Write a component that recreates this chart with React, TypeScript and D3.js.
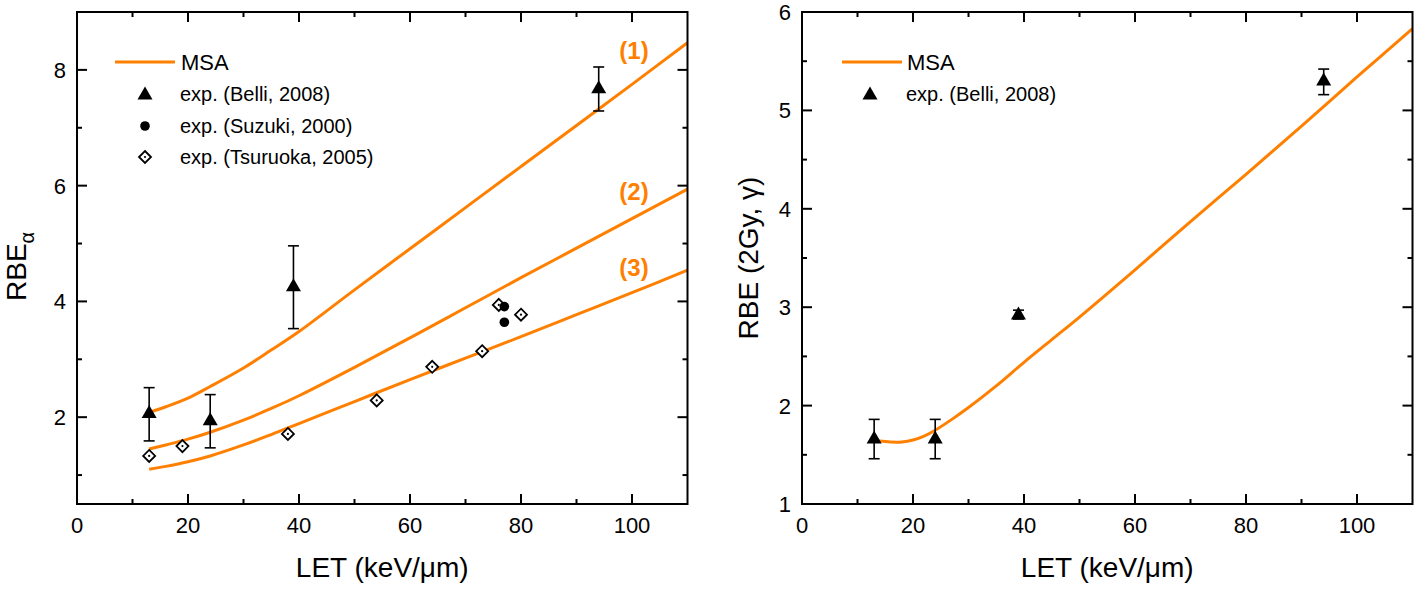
import React from "react";
import * as d3 from "d3";

// ---------- data (left panel) ----------
const letGrid = [13, 16, 20, 24, 30, 35, 40, 50, 60, 70, 80, 90, 100, 110];
const msaCurve1 = [2.08, 2.18, 2.33, 2.53, 2.85, 3.16, 3.48, 4.2, 4.91, 5.62, 6.33, 7.04, 7.75, 8.47];
const msaCurve2 = [1.45, 1.52, 1.62, 1.74, 1.95, 2.15, 2.37, 2.86, 3.37, 3.89, 4.41, 4.92, 5.43, 5.94];
const msaCurve3 = [1.1, 1.15, 1.23, 1.33, 1.52, 1.7, 1.89, 2.27, 2.65, 3.02, 3.39, 3.77, 4.15, 4.54];
const curveLabels = ["(1)", "(2)", "(3)"];
const curveLabelY = [8.19, 5.75, 4.44];

const belliLet = [13, 24, 39, 94];
const belliRbeA = [2.08, 1.955, 4.27, 7.69];
const belliRbeALo = [1.59, 1.47, 3.53, 7.29];
const belliRbeAHi = [2.51, 2.39, 4.96, 8.05];

const suzukiLet = [77, 77];
const suzukiRbe = [3.91, 3.64];

const tsuruokaLet = [13, 19, 38, 54, 64, 73, 76, 80];
const tsuruokaRbe = [1.33, 1.5, 1.71, 2.29, 2.87, 3.14, 3.94, 3.77];

// ---------- data (right panel) ----------
const letGrid2 = [13, 14, 16, 18, 20, 22, 24, 27, 30, 35, 40, 45, 50, 60, 70, 80, 90, 100, 110];
const msaRbe2Gy = [1.65, 1.64, 1.63, 1.63, 1.65, 1.69, 1.75, 1.86, 1.98, 2.2, 2.44, 2.67, 2.9, 3.38, 3.87, 4.35, 4.84, 5.34, 5.83];
const belliRbe2Gy = [1.67, 1.67, 2.93, 5.31];
const belliRbe2GyLo = [1.46, 1.46, 2.88, 5.16];
const belliRbe2GyHi = [1.86, 1.86, 2.97, 5.42];

const xTicks = [0, 20, 40, 60, 80, 100];
const xMinor = [10, 30, 50, 70, 90];
const yTicksL = [2, 4, 6, 8];
const yMinorL = [1, 3, 5, 7];
const yTicksR = [1, 2, 3, 4, 5, 6];
const yMinorR = [1.5, 2.5, 3.5, 4.5, 5.5];

const ORANGE = "#ff8000";
const FONT = "'Liberation Sans', Arial, Helvetica, sans-serif";

type Box = { left: number; right: number; top: number; bottom: number };

function Frame({ x, y, box, xt, xm, yt, ym }: any) {
  const { left, right, top, bottom } = box as Box;
  const els: any[] = [];
  xt.forEach((v: number, i: number) => {
    const px = x(v);
    els.push(<line key={"xb" + i} x1={px} x2={px} y1={bottom} y2={bottom - 10} />);
    els.push(<line key={"xt" + i} x1={px} x2={px} y1={top} y2={top + 10} />);
  });
  xm.forEach((v: number, i: number) => {
    const px = x(v);
    els.push(<line key={"xmb" + i} x1={px} x2={px} y1={bottom} y2={bottom - 5} />);
    els.push(<line key={"xmt" + i} x1={px} x2={px} y1={top} y2={top + 5} />);
  });
  yt.forEach((v: number, i: number) => {
    const py = y(v);
    els.push(<line key={"yl" + i} x1={left} x2={left + 10} y1={py} y2={py} />);
    els.push(<line key={"yr" + i} x1={right} x2={right - 10} y1={py} y2={py} />);
  });
  ym.forEach((v: number, i: number) => {
    const py = y(v);
    els.push(<line key={"yml" + i} x1={left} x2={left + 5} y1={py} y2={py} />);
    els.push(<line key={"ymr" + i} x1={right} x2={right - 5} y1={py} y2={py} />);
  });
  return (
    <g stroke="#000" strokeWidth={2} fill="none">
      <rect x={left} y={top} width={right - left} height={bottom - top} />
      {els}
      <g stroke="none" fill="#000" fontFamily={FONT} fontSize={22}>
        {xt.map((v: number) => (
          <text key={"xl" + v} x={x(v)} y={bottom + 29} textAnchor="middle">
            {v}
          </text>
        ))}
        {yt.map((v: number) => (
          <text key={"ylab" + v} x={left - 11} y={y(v) + 8} textAnchor="end">
            {v}
          </text>
        ))}
      </g>
    </g>
  );
}

function tri(cx: number, cy: number) {
  return `M${cx},${cy - 7.5}L${cx + 7.5},${cy + 5.5}L${cx - 7.5},${cy + 5.5}Z`;
}

function Diamond({ cx, cy }: { cx: number; cy: number }) {
  const r = 6;
  return (
    <g>
      <path d={`M${cx},${cy - r}L${cx + r},${cy}L${cx},${cy + r}L${cx - r},${cy}Z`} fill="#fff" stroke="#000" strokeWidth={1.8} />
      <circle cx={cx} cy={cy} r={1.1} fill="#000" />
    </g>
  );
}

function ErrBar({ px, y1, y2 }: { px: number; y1: number; y2: number }) {
  return (
    <g stroke="#000" strokeWidth={1.6}>
      <line x1={px} x2={px} y1={y1} y2={y2} />
      <line x1={px - 5.5} x2={px + 5.5} y1={y1} y2={y1} />
      <line x1={px - 5.5} x2={px + 5.5} y1={y2} y2={y2} />
    </g>
  );
}

export default function App() {
  // left panel
  const boxL: Box = { left: 77, right: 687.5, top: 12, bottom: 504 };
  const xL = d3.scaleLinear().domain([0, 110]).range([boxL.left, boxL.right]);
  const yL = d3.scaleLinear().domain([0.5, 9]).range([boxL.bottom, boxL.top]);
  // right panel
  const boxR: Box = { left: 802, right: 1412.5, top: 12, bottom: 504 };
  const xR = d3.scaleLinear().domain([0, 110]).range([boxR.left, boxR.right]);
  const yR = d3.scaleLinear().domain([1, 6]).range([boxR.bottom, boxR.top]);

  const lineL = d3
    .line<[number, number]>()
    .x((d) => xL(d[0]))
    .y((d) => yL(d[1]))
    .curve(d3.curveCatmullRom.alpha(0.5));
  const lineR = d3
    .line<[number, number]>()
    .x((d) => xR(d[0]))
    .y((d) => yR(d[1]))
    .curve(d3.curveCatmullRom.alpha(0.5));

  const curvesL = [msaCurve1, msaCurve2, msaCurve3].map((c) =>
    lineL(letGrid.map((v, i) => [v, c[i]] as [number, number]))
  );
  const curveR = lineR(letGrid2.map((v, i) => [v, msaRbe2Gy[i]] as [number, number]));

  return (
    <svg
      width={1418}
      height={593}
      style={{ position: "absolute", left: 0, top: 0, background: "#fff" }}
      fontFamily={FONT}
    >
      <rect width={1418} height={593} fill="#fff" />
      {/* ---------- left panel ---------- */}
      <g>
        {curvesL.map((d, i) => (
          <path key={i} d={d || ""} fill="none" stroke={ORANGE} strokeWidth={3} />
        ))}
        {curveLabels.map((t, i) => (
          <text key={t} x={634} y={yL(curveLabelY[i])} textAnchor="middle" fill={ORANGE} fontWeight="bold" fontSize={24}>
            {t}
          </text>
        ))}
        {belliLet.map((v, i) => (
          <ErrBar key={"eb" + i} px={xL(v)} y1={yL(belliRbeAHi[i])} y2={yL(belliRbeALo[i])} />
        ))}
        {belliLet.map((v, i) => (
          <path key={"bt" + i} d={tri(xL(v), yL(belliRbeA[i]))} fill="#000" />
        ))}
        {tsuruokaLet.map((v, i) => (
          <Diamond key={"ts" + i} cx={xL(v)} cy={yL(tsuruokaRbe[i])} />
        ))}
        {suzukiLet.map((v, i) => (
          <circle key={"sz" + i} cx={xL(v)} cy={yL(suzukiRbe[i])} r={4.8} fill="#000" />
        ))}
        <Frame x={xL} y={yL} box={boxL} xt={xTicks} xm={xMinor} yt={yTicksL} ym={yMinorL} />
        {/* legend */}
        <line x1={115} x2={175} y1={62} y2={62} stroke={ORANGE} strokeWidth={3} />
        <text x={181} y={70} fontSize={22}>MSA</text>
        <path d={tri(145, 94)} fill="#000" />
        <text x={180} y={101} fontSize={20}>exp. (Belli, 2008)</text>
        <circle cx={145} cy={126} r={4.8} fill="#000" />
        <text x={180} y={133} fontSize={20}>exp. (Suzuki, 2000)</text>
        <Diamond cx={145} cy={157} />
        <text x={180} y={164} fontSize={20}>exp. (Tsuruoka, 2005)</text>
        {/* axis titles */}
        <text x={(boxL.left + boxL.right) / 2} y={577} textAnchor="middle" fontSize={28}>
          LET (keV/μm)
        </text>
        <text transform="translate(26,301) rotate(-90)" fontSize={28}>
          RBE
          <tspan fontSize={20} dy={8}>α</tspan>
        </text>
      </g>
      {/* ---------- right panel ---------- */}
      <g>
        <path d={curveR || ""} fill="none" stroke={ORANGE} strokeWidth={3} />
        {belliLet.map((v, i) => (
          <ErrBar key={"ebr" + i} px={xR(v)} y1={yR(belliRbe2GyHi[i])} y2={yR(belliRbe2GyLo[i])} />
        ))}
        {belliLet.map((v, i) => (
          <path key={"btr" + i} d={tri(xR(v), yR(belliRbe2Gy[i]))} fill="#000" />
        ))}
        <Frame x={xR} y={yR} box={boxR} xt={xTicks} xm={xMinor} yt={yTicksR} ym={yMinorR} />
        <line x1={842} x2={902} y1={62} y2={62} stroke={ORANGE} strokeWidth={3} />
        <text x={907} y={70} fontSize={22}>MSA</text>
        <path d={tri(870, 94)} fill="#000" />
        <text x={906} y={101} fontSize={20}>exp. (Belli, 2008)</text>
        <text x={(boxR.left + boxR.right) / 2} y={577} textAnchor="middle" fontSize={28}>
          LET (keV/μm)
        </text>
        <text transform="translate(758,258) rotate(-90)" textAnchor="middle" fontSize={28}>
          RBE (2Gy, γ)
        </text>
      </g>
    </svg>
  );
}
